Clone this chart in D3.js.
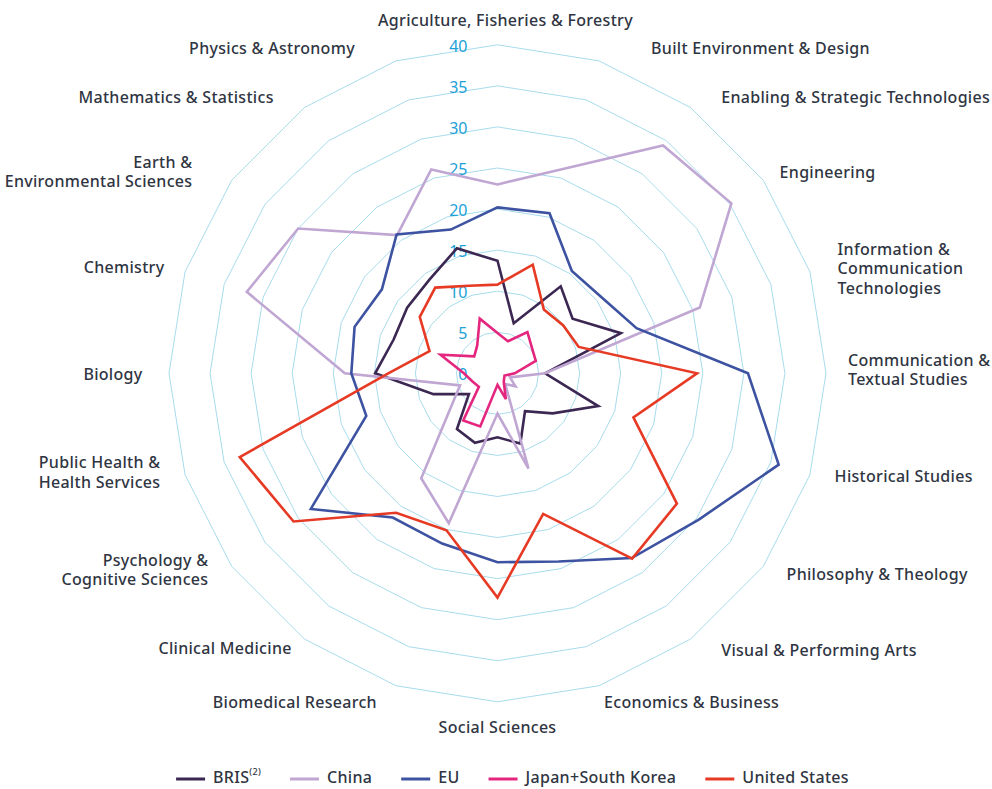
<!DOCTYPE html>
<html>
<head>
<meta charset="utf-8">
<script src="https://cdn.jsdelivr.net/npm/d3@7"></script>
<style>
  html, body { margin: 0; padding: 0; background: #ffffff; }
  svg { display: block; }
  text { font-family: "Noto Sans", "Open Sans", sans-serif; }
</style>
</head>
<body>
<svg id="chart" width="992" height="789"></svg>
<script>
// ---------------- DATA ----------------
const categories = [
  "Agriculture, Fisheries & Forestry",
  "Built Environment & Design",
  "Enabling & Strategic Technologies",
  "Engineering",
  "Information &\nCommunication\nTechnologies",
  "Communication &\nTextual Studies",
  "Historical Studies",
  "Philosophy & Theology",
  "Visual & Performing Arts",
  "Economics & Business",
  "Social Sciences",
  "Biomedical Research",
  "Clinical Medicine",
  "Psychology &\nCognitive Sciences",
  "Public Health &\nHealth Services",
  "Biology",
  "Chemistry",
  "Earth &\nEnvironmental Sciences",
  "Mathematics & Statistics",
  "Physics & Astronomy"
];

const seriesNames = ["BRIS", "China", "EU", "Japan+South Korea", "United States"];

const brisValues  = [13.7, 6.4, 13.1, 11.3, 15.8, 5.8, 12.9, 8.3, 5.7, 9.0, 7.8, 8.9, 8.4, 4.3, 8.2, 14.9, 13.3, 13.6, 14.1, 16.0];
const chinaValues = [23.0, 26.2, 34.3, 35.2, 25.9, 5.8, 1.6, 2.7, 1.6, 12.2, 4.9, 19.2, 15.8, 7.0, 4.8, 18.6, 32.1, 30.0, 20.8, 26.1];
const euValues    = [20.2, 20.5, 15.4, 15.7, 17.8, 30.5, 36.0, 30.3, 27.8, 24.1, 23.0, 21.8, 21.7, 28.1, 16.8, 17.8, 18.3, 17.4, 20.9, 18.4];
const jpkrValues  = [4.9, 4.1, 6.2, 5.2, 4.9, 2.1, 0.9, 1.0, 1.3, 3.3, 1.4, 6.8, 7.1, 2.8, 3.2, 4.1, 7.3, 3.5, 4.2, 7.0];
const usValues    = [10.8, 13.9, 9.6, 9.9, 10.4, 24.3, 17.4, 27.0, 27.9, 18.0, 27.3, 20.1, 21.0, 30.7, 33.0, 13.3, 8.7, 11.7, 12.9, 11.2];

const tickValues = [0, 5, 10, 15, 20, 25, 30, 35, 40];

// ---------------- LAYOUT / STYLE ----------------
const colors = ["#3b2752", "#c0a6d2", "#3d52a1", "#e5267f", "#e63a24"];
const seriesValues = [brisValues, chinaValues, euValues, jpkrValues, usValues];

const cx = 497.5, cy = 373.3;
const rMax = 328.5;
const labelR = 345;
// fine nudges of category labels (dx, dy) in px
const labelNudge = [
  [8, -7], [47, 4], [21, 4], [3, 3.5], [12, 3], [5.5, -2], [9, -2], [10, 0], [21, -1], [0, 2],
  [0, 10], [-14, 2], [-3, -3], [-10, -5], [-9, -6], [-10, 2], [-5, 2], [-26, 2.5], [-21, 4], [-36, 4]
];
const textFont = { size: 16, weight: 500, spacing: 0.3, color: "#2f3542" };

const svg = d3.select("#chart");
const g = svg.append("g").attr("transform", `translate(${cx},${cy})`);

const r = d3.scaleLinear().domain([0, 40]).range([0, rMax]);
const n = categories.length;
const angle = d3.scaleLinear().domain([0, n]).range([0, 2 * Math.PI]);

const radial = d3.lineRadial()
  .angle((d, i) => angle(i))
  .radius(d => r(d))
  .curve(d3.curveLinearClosed);

// grid rings
g.append("g").selectAll("path")
  .data(tickValues.filter(v => v > 0))
  .join("path")
  .attr("d", v => radial(categories.map(() => v)))
  .attr("fill", "none")
  .attr("stroke", "#a8dcec")
  .attr("stroke-width", 1);

// tick labels
g.append("g").selectAll("text")
  .data(tickValues)
  .join("text")
  .attr("x", -30)
  .attr("y", v => -r(v) + 2.5)
  .attr("text-anchor", "end")
  .attr("dominant-baseline", "middle")
  .attr("font-size", 16)
  .attr("fill", "#22a1d6")
  .text(v => v);

// series
g.append("g").selectAll("path")
  .data(seriesValues)
  .join("path")
  .attr("d", d => radial(d))
  .attr("fill", "none")
  .attr("stroke", (d, i) => colors[i])
  .attr("stroke-width", 2.6)
  .attr("stroke-linejoin", "miter");

// category labels
const lineH = 19.5;
const labels = g.append("g");
categories.forEach((c, i) => {
  const a = angle(i);
  const s = Math.sin(a);
  let x = labelR * s + labelNudge[i][0];
  let y = -labelR * Math.cos(a) + labelNudge[i][1];
  const anchor = Math.abs(s) < 0.01 ? "middle" : (s > 0 ? "start" : "end");
  const lines = c.split("\n");
  lines.forEach((ln, k) => {
    labels.append("text")
      .attr("text-anchor", anchor)
      .attr("font-size", textFont.size)
      .attr("font-weight", textFont.weight)
      .attr("letter-spacing", textFont.spacing)
      .attr("fill", textFont.color)
      .attr("x", x)
      .attr("y", y + (k - (lines.length - 1) / 2) * lineH)
      .attr("dominant-baseline", "middle")
      .text(ln);
  });
});

// legend
const legend = svg.append("g").attr("transform", "translate(0,779)");
const items = [];
seriesNames.forEach((name, i) => {
  const it = legend.append("g");
  it.append("line").attr("x1", 0).attr("x2", 29).attr("y1", 0).attr("y2", 0)
    .attr("stroke", colors[i]).attr("stroke-width", 3);
  const t = it.append("text").attr("x", 37).attr("y", 0)
    .attr("dominant-baseline", "middle")
    .attr("font-size", textFont.size)
    .attr("font-weight", textFont.weight)
    .attr("letter-spacing", textFont.spacing)
    .attr("fill", textFont.color);
  t.append("tspan").text(name);
  if (i === 0) {
    t.append("tspan").attr("font-size", 9).attr("dy", -6).text("(2)");
  }
  const w = 37 + t.node().getComputedTextLength();
  items.push({ it, w });
});
const gap = 29;
const total = d3.sum(items, d => d.w) + gap * (items.length - 1);
let start = 512.5 - total / 2;
items.forEach(d => {
  d.it.attr("transform", `translate(${start},0)`);
  start += d.w + gap;
});
</script>
</body>
</html>
